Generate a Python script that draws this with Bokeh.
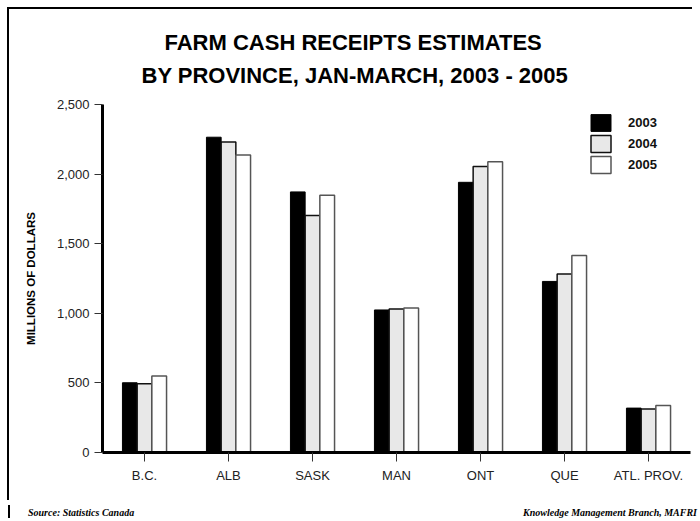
from bokeh.plotting import figure
from bokeh.models import (FactorRange, Range1d, Legend, LegendItem, Title, Div,
                          NumeralTickFormatter, FixedTicker, ColumnDataSource)
from bokeh.layouts import column
from bokeh.transform import dodge
from bokeh.embed import file_html
from bokeh.resources import INLINE

# ---- data (millions of dollars) ----
provinces = ["B.C.", "ALB", "SASK", "MAN", "ONT", "QUE", "ATL. PROV."]
years = ["2003", "2004", "2005"]
v2003 = [501, 2265, 1872, 1024, 1941, 1229, 319]
v2004 = [494, 2230, 1702, 1031, 2054, 1283, 312]
v2005 = [549, 2138, 1848, 1038, 2088, 1416, 338]
y_ticks = [0, 500, 1000, 1500, 2000, 2500]

title1 = "FARM CASH RECEIPTS ESTIMATES"
title2 = "BY PROVINCE, JAN-MARCH, 2003 - 2005"
y_label = "MILLIONS OF DOLLARS"
source_note = "Source: Statistics Canada"
credit_note = "Knowledge Management Branch, MAFRI"

src = ColumnDataSource(dict(prov=provinces, y2003=v2003, y2004=v2004, y2005=v2005))

p = figure(x_range=FactorRange(factors=provinces, range_padding=0),
           y_range=Range1d(0, 2500), width=692, height=500,
           output_backend="svg", toolbar_location=None, title=None,
           min_border_left=102, min_border_right=2,
           min_border_top=104, min_border_bottom=48)
p.border_fill_color = None
p.styles = {"background": "linear-gradient(#000,#000) 7px 7px / 2px calc(100% - 7px) no-repeat, "
                          "linear-gradient(#000,#000) 7px 7px / calc(100% - 7px) 2px no-repeat, #fff"}

bw = 0.175
r1 = p.vbar(x=dodge('prov', -bw, range=p.x_range), top='y2003', width=bw, source=src,
            fill_color="black", line_color="black", line_width=1)
r2 = p.vbar(x=dodge('prov', 0, range=p.x_range), top='y2004', width=bw, source=src,
            fill_color="#e8e8e8", line_color="#111111", line_width=1.5)
r3 = p.vbar(x=dodge('prov', bw, range=p.x_range), top='y2005', width=bw, source=src,
            fill_color="white", line_color="#555555", line_width=1.5)

p.xgrid.visible = False
p.ygrid.visible = False
p.outline_line_color = None

ya = p.yaxis[0]
ya.ticker = FixedTicker(ticks=y_ticks)
ya.formatter = NumeralTickFormatter(format="0,0")
ya.axis_line_width = 3
ya.axis_line_color = "black"
ya.major_tick_in = 0
ya.major_tick_out = 8
ya.major_tick_line_color = "#333333"
ya.minor_tick_line_color = None
ya.major_label_text_font = "Liberation Sans"
ya.major_label_text_font_size = "13px"
ya.major_label_text_color = "#222222"
ya.major_label_standoff = 5
ya.axis_label = y_label
ya.axis_label_text_font = "Liberation Sans"
ya.axis_label_text_font_style = "bold"
ya.axis_label_text_font_size = "11.5px"
ya.axis_label_text_color = "black"
ya.axis_label_standoff = 17

xa = p.xaxis[0]
xa.axis_line_width = 3
xa.axis_line_color = "black"
xa.major_tick_in = 0
xa.major_tick_out = 9
xa.major_tick_line_color = "#333333"
xa.minor_tick_line_color = None
xa.major_label_text_font = "Liberation Sans"
xa.major_label_text_font_size = "13px"
xa.major_label_text_color = "#222222"
xa.major_label_standoff = 6

legend = Legend(items=[LegendItem(label=years[0], renderers=[r1]),
                       LegendItem(label=years[1], renderers=[r2]),
                       LegendItem(label=years[2], renderers=[r3])],
                location=(486, 277), orientation="vertical",
                glyph_width=25, glyph_height=21, label_height=21,
                label_width=30, spacing=0, padding=0, margin=0,
                label_standoff=15, border_line_color=None,
                background_fill_alpha=0,
                label_text_font="Liberation Sans", label_text_font_style="bold",
                label_text_font_size="13px", label_text_color="#111111")
p.add_layout(legend, "center")

t2 = Title(text=title2, align="left", offset=39, vertical_align="bottom",
           text_font="Liberation Sans", text_font_style="bold",
           text_font_size="22px", text_color="black", standoff=33)
t1 = Title(text=title1, align="left", offset=62, vertical_align="bottom",
           text_font="Liberation Sans", text_font_style="bold",
           text_font_size="22px", text_color="black", standoff=-20)
p.add_layout(t2, "above")
p.add_layout(t1, "above")

footer = Div(width=692, height=13, text=(
    '<div style="position:relative;width:692px;height:13px;'
    'font-family:\'Liberation Serif\';font-style:italic;font-weight:bold;'
    'font-size:10px;line-height:12px;color:#000;">'
    '<div style="position:absolute;left:3px;top:0;width:2px;height:13px;background:#000;"></div>'
    '<span style="position:absolute;left:23px;top:2px;">' + source_note + '</span>'
    '<span style="position:absolute;right:0px;top:2px;">' + credit_note + '</span>'
    '</div>'))

layout = column(p, footer, spacing=0)
open("out.html", "w").write(file_html(layout, INLINE))
